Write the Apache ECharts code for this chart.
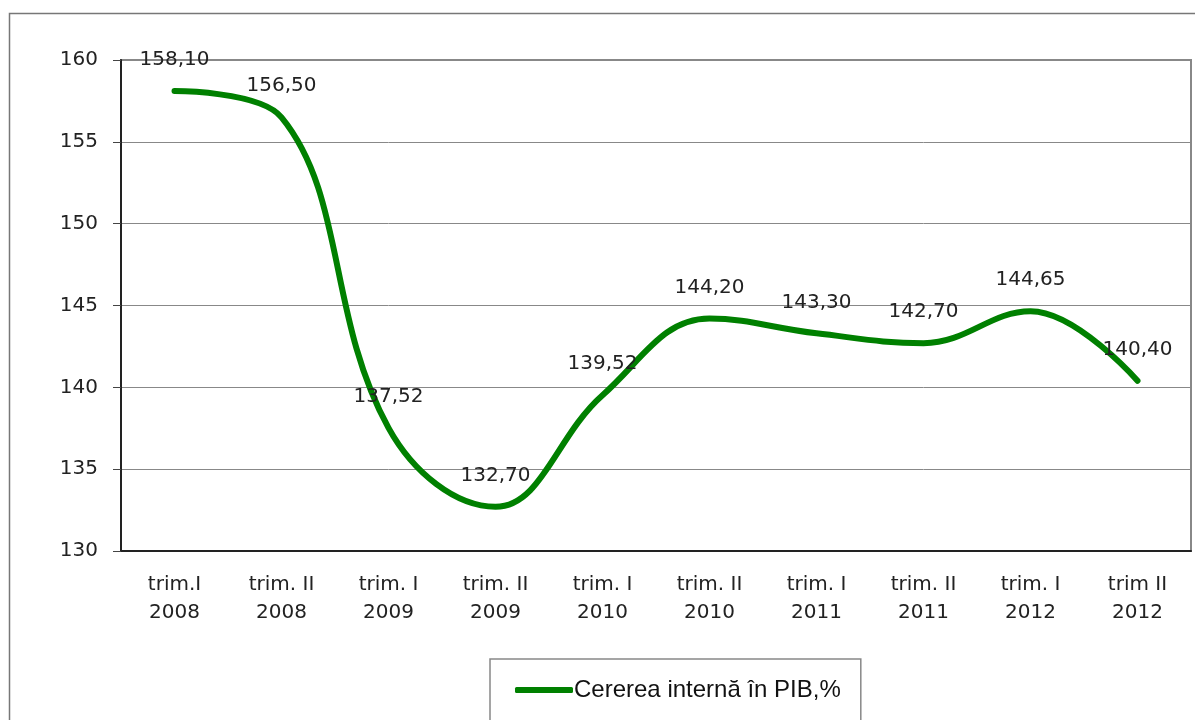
<!DOCTYPE html>
<html>
<head>
<meta charset="utf-8">
<script src="https://cdn.jsdelivr.net/npm/echarts@6/dist/echarts.min.js"></script>
<style>
html,body{margin:0;padding:0;background:#fff}
#myCanvas{width:1195px;height:720px}
</style>
</head>
<body>
<div id="myCanvas"></div>
<script>
var categories = ['trim.I\n2008','trim. II\n2008','trim. I\n2009','trim. II\n2009','trim. I\n2010',
    'trim. II\n2010','trim. I\n2011','trim. II\n2011','trim. I\n2012','trim II\n2012'];
var cerereaValues = [158.10, 156.50, 137.52, 132.70, 139.52, 144.20, 143.30, 142.70, 144.65, 140.40];
var seriesName = 'Cererea internă în PIB,%';

var myChart = echarts.init(document.getElementById('myCanvas'));
var option = {
    animation: false,
    graphic: [{
        type: 'rect',
        shape: {x: 9.5, y: 13.5, width: 1200, height: 720},
        style: {fill: 'none', stroke: '#777', lineWidth: 1.5},
        silent: true
    }],
    legend: {
        data: [seriesName],
        left: 490,
        top: 659,
        padding: [19, 20, 40, 25],
        itemWidth: 58,
        itemHeight: 6,
        itemGap: 0,
        borderColor: '#888',
        borderWidth: 1.5,
        itemStyle: {color: '#008000', opacity: 1},
        textStyle: {fontFamily: 'Liberation Sans', fontSize: 24, color: '#111', padding: [0, 0, 0, -4]},
        icon: 'roundRect'
    },
    grid: {
        left: 121,
        right: 4,
        top: 60,
        bottom: 169,
        show: true,
        borderColor: '#888',
        borderWidth: 2
    },
    xAxis: {
        type: 'category',
        data: categories,
        axisLine: {lineStyle: {color: '#222', width: 2}},
        axisTick: {length: 8, lineStyle: {color: '#777', width: 1.5}},
        axisLabel: {fontFamily: 'DejaVu Sans', fontSize: 20, color: '#222', lineHeight: 28, margin: 20}
    },
    yAxis: {
        type: 'value',
        min: 130,
        max: 160,
        interval: 5,
        axisLine: {show: true, lineStyle: {color: '#222', width: 2}},
        axisTick: {show: true, length: 8, lineStyle: {color: '#444'}},
        axisLabel: {fontFamily: 'DejaVu Sans', fontSize: 20, color: '#222', margin: 23},
        splitLine: {lineStyle: {color: '#888', width: 1}}
    },
    series: [{
        name: seriesName,
        type: 'line',
        data: cerereaValues,
        smooth: 0.4,
        symbol: 'circle',
        symbolSize: 2,
        showSymbol: true,
        itemStyle: {color: '#008000'},
        color: '#008000',
        lineStyle: {width: 6, color: '#008000', cap: 'round'},
        labelLayout: {hideOverlap: false},
        label: {
            show: true,
            position: 'top',
            distance: 20,
            fontFamily: 'DejaVu Sans',
            fontSize: 20,
            color: '#222',
            formatter: function (p) { return p.value.toFixed(2).replace('.', ','); }
        }
    }]
};
myChart.setOption(option);
</script>
</body>
</html>
